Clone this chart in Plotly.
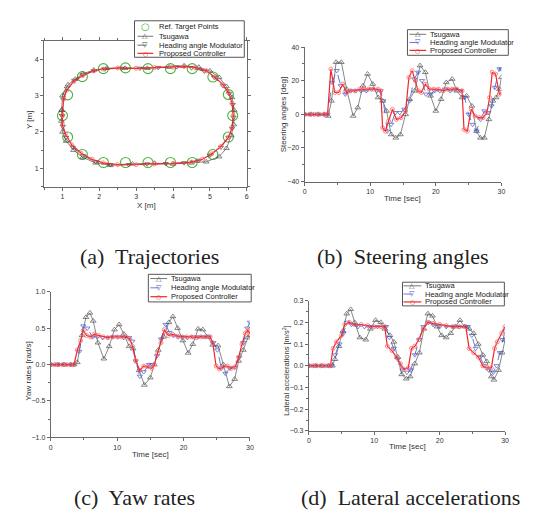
import plotly.graph_objects as go

W, H = 541, 520

# ---------------- data ----------------
# (a) trajectories
target_x = [1.00, 1.14, 1.14, 1.54, 1.54, 2.11, 2.11, 2.71, 2.71, 3.32, 3.32, 3.93, 3.93, 4.52, 4.52, 5.08, 5.08, 5.50, 5.50, 5.62]
target_y = [2.45, 3.02, 1.86, 3.52, 1.38, 3.74, 1.16, 3.76, 1.16, 3.74, 1.16, 3.74, 1.16, 3.74, 1.16, 3.51, 1.38, 3.03, 1.86, 2.45]

tsu_x = [0.98, 1.00, 1.15, 1.35, 1.55, 1.85, 2.20, 2.70, 3.30, 3.90, 4.30, 4.70, 5.00, 5.25, 5.45, 5.60, 5.66, 5.65, 5.58, 5.45, 5.25, 4.90, 4.50, 4.00, 3.50, 2.90, 2.30, 1.90, 1.55, 1.30, 1.10, 1.00, 0.97, 0.98]
tsu_y = [2.60, 3.00, 3.30, 3.45, 3.60, 3.70, 3.75, 3.75, 3.75, 3.78, 3.82, 3.78, 3.68, 3.50, 3.25, 2.95, 2.60, 2.20, 1.90, 1.55, 1.32, 1.18, 1.15, 1.12, 1.14, 1.12, 1.08, 1.15, 1.30, 1.50, 1.75, 2.00, 2.30, 2.60]

hea_x = [0.99, 1.02, 1.12, 1.32, 1.55, 1.85, 2.15, 2.60, 3.10, 3.60, 4.10, 4.50, 4.85, 5.12, 5.35, 5.52, 5.62, 5.64, 5.60, 5.50, 5.30, 5.00, 4.70, 4.30, 3.80, 3.30, 2.80, 2.30, 1.90, 1.55, 1.28, 1.10, 1.01, 0.99]
hea_y = [2.45, 2.90, 3.20, 3.42, 3.57, 3.68, 3.73, 3.75, 3.75, 3.77, 3.79, 3.76, 3.67, 3.50, 3.28, 3.05, 2.75, 2.40, 2.10, 1.85, 1.58, 1.36, 1.22, 1.15, 1.13, 1.12, 1.10, 1.10, 1.18, 1.35, 1.58, 1.85, 2.15, 2.45]

pro_x = [1.00, 1.03, 1.12, 1.30, 1.55, 1.85, 2.10, 2.50, 3.00, 3.50, 4.00, 4.30, 4.60, 4.90, 5.15, 5.35, 5.50, 5.60, 5.63, 5.60, 5.50, 5.30, 5.05, 4.80, 4.50, 4.00, 3.50, 3.00, 2.50, 2.10, 1.80, 1.50, 1.25, 1.08, 1.00, 1.00]
pro_y = [2.45, 2.90, 3.15, 3.38, 3.55, 3.68, 3.73, 3.76, 3.75, 3.77, 3.78, 3.80, 3.77, 3.68, 3.50, 3.30, 3.10, 2.80, 2.45, 2.10, 1.85, 1.60, 1.40, 1.25, 1.17, 1.13, 1.12, 1.10, 1.10, 1.15, 1.25, 1.42, 1.65, 1.95, 2.20, 2.45]

# (b) steering angles [deg]
b_tsu_t = [0, 1, 2, 3, 3.6, 4.1, 4.8, 5.6, 6.4, 7.4, 8.1, 8.9, 9.6, 10.4, 11.2, 11.9, 12.5, 13.2, 13.9, 14.6, 15.4, 16.0, 16.8, 17.6, 18.4, 19.2, 20.0, 20.8, 21.6, 22.5, 23.2, 24.0, 24.7, 25.5, 26.2, 26.8, 27.4, 28.1, 28.7, 29.2, 29.7, 30]
b_tsu_v = [0, 0, 0, 0, -1, 8, 31, 31, 15, -1, 4, 17, 24, 18, 10, 8, 2, -12, -14, -12, 0, 9, 14, 29, 25, 11, 2, 9, 19, 21, 14, 10, 11, 5, -10, -14, -14, -3, 8, 10, 15, 22]
b_hea_t = [0, 1, 2, 3, 3.5, 4.2, 4.9, 5.5, 6.2, 7.0, 7.8, 8.6, 9.4, 10.2, 11.0, 11.6, 12.0, 12.6, 13.2, 13.8, 14.5, 15.2, 16.0, 16.7, 17.3, 17.9, 18.5, 19.2, 19.8, 20.6, 21.4, 22.2, 23.0, 23.8, 24.4, 25.0, 25.6, 26.2, 26.8, 27.4, 28.0, 28.5, 29.0, 29.7, 30]
b_hea_v = [0, 0, 0, 0, 0, 19, 26, 17, 12, 14, 14, 14, 14, 15, 14, 14, 8, -10, -6, 1, 1, 3, 8, 21, 25, 20, 12, 12, 14, 14, 15, 14, 15, 14, 10, 0, -6, -10, -3, 2, 1, 5, 16, 27, 27]
b_pro_t = [0, 0.75, 1.5, 2.25, 3.0, 3.5, 4.0, 4.6, 5.2, 5.8, 6.4, 7.0, 7.7, 8.4, 9.1, 9.8, 10.5, 11.2, 11.6, 11.9, 12.3, 12.8, 13.4, 14.0, 14.7, 15.4, 15.9, 16.4, 16.9, 17.3, 17.8, 18.4, 19.0, 19.7, 20.4, 21.1, 21.8, 22.5, 23.2, 24.0, 24.3, 24.8, 25.4, 26.0, 26.6, 27.2, 27.8, 28.2, 28.6, 29.1, 29.7, 30]
b_pro_v = [0, 0, 0, 0, 0, 0, 27, 13, 13, 18, 13, 14, 14, 15, 15, 15, 15, 15, 14, -8, -10, -4, 3, -3, -2, 2, 22, 26, 20, 14, 13, 18, 15, 15, 15, 14, 15, 15, 15, 14, -9, -10, 3, -1, -2, -2, 1, 10, 25, 24, 12, 13]

# (c) yaw rates [rad/s]
c_tsu_t = [0, 1, 2, 3, 3.5, 4.0, 4.7, 5.3, 5.9, 6.4, 7.1, 8.0, 8.8, 9.6, 10.3, 11.0, 11.8, 12.4, 13.3, 14.1, 15.0, 15.6, 16.2, 17.0, 17.8, 18.4, 19.1, 19.9, 20.7, 21.4, 22.2, 22.9, 23.7, 24.4, 25.2, 26.0, 26.9, 27.7, 28.3, 29.0, 29.7, 30]
c_tsu_v = [0, 0, 0, 0, 0, 0.03, 0.40, 0.65, 0.71, 0.60, 0.30, 0.08, 0.25, 0.48, 0.55, 0.42, 0.25, 0.22, -0.08, -0.28, -0.18, 0.0, 0.20, 0.38, 0.58, 0.66, 0.50, 0.33, 0.16, 0.28, 0.49, 0.48, 0.38, 0.27, 0.26, 0.0, -0.30, -0.20, 0.05, 0.20, 0.37, 0.40]
c_hea_t = [0, 1, 2, 3, 3.5, 4.3, 4.9, 5.5, 6.3, 7.0, 7.8, 8.6, 9.4, 10.2, 11.0, 11.8, 12.3, 12.8, 13.4, 14.0, 14.8, 15.3, 16.0, 16.6, 17.3, 17.9, 18.5, 19.2, 19.9, 20.6, 21.4, 22.2, 23.0, 23.8, 24.5, 25.1, 25.7, 26.3, 27.0, 27.7, 28.4, 29.0, 29.6, 30]
c_hea_v = [0, 0, 0, 0, 0, 0.18, 0.53, 0.50, 0.38, 0.38, 0.37, 0.37, 0.38, 0.38, 0.37, 0.37, 0.32, 0.05, -0.16, -0.10, 0.0, 0.0, 0.12, 0.35, 0.55, 0.44, 0.40, 0.38, 0.38, 0.37, 0.38, 0.38, 0.38, 0.38, 0.30, 0.20, -0.05, -0.12, -0.05, -0.04, 0.10, 0.30, 0.50, 0.58]
c_pro_t = [0, 0.6, 1.2, 1.8, 2.4, 3.0, 3.5, 4.0, 4.5, 4.9, 5.4, 6.0, 6.6, 7.2, 7.9, 8.6, 9.3, 10.0, 10.7, 11.4, 11.9, 12.3, 12.8, 13.4, 14.0, 14.6, 15.2, 15.6, 16.1, 16.6, 17.1, 17.7, 18.4, 19.1, 19.8, 20.5, 21.2, 21.9, 22.6, 23.3, 24.0, 24.4, 24.9, 25.4, 26.0, 26.6, 27.2, 27.8, 28.3, 28.8, 29.3, 29.7, 30]
c_pro_v = [0, 0, 0, 0, 0, 0, 0.0, 0.2, 0.33, 0.47, 0.40, 0.38, 0.42, 0.40, 0.38, 0.37, 0.38, 0.38, 0.38, 0.38, 0.35, 0.25, 0.05, -0.08, -0.02, -0.03, -0.05, 0.0, 0.15, 0.30, 0.48, 0.40, 0.41, 0.39, 0.38, 0.38, 0.38, 0.37, 0.38, 0.38, 0.38, 0.30, -0.02, -0.06, -0.03, -0.02, -0.05, -0.03, 0.10, 0.28, 0.43, 0.47, 0.42]

# (d) lateral accelerations [m/s^2]
d_tsu_t = [0, 1, 2, 3, 3.6, 4.0, 4.6, 5.2, 5.8, 6.4, 7.0, 7.8, 8.7, 9.4, 10.2, 11.0, 11.6, 12.4, 13.0, 13.6, 14.2, 14.9, 15.5, 16.2, 16.9, 17.6, 18.2, 18.9, 19.6, 20.3, 21.0, 21.7, 22.4, 23.1, 23.8, 24.5, 25.2, 25.9, 26.6, 27.2, 27.9, 28.3, 29.0, 29.6, 30]
d_tsu_v = [0, 0, 0, 0, 0, 0.03, 0.09, 0.16, 0.24, 0.26, 0.20, 0.13, 0.12, 0.17, 0.21, 0.20, 0.17, 0.14, 0.11, 0.04, -0.04, -0.06, -0.05, 0.01, 0.06, 0.17, 0.24, 0.23, 0.18, 0.14, 0.13, 0.15, 0.18, 0.21, 0.18, 0.17, 0.15, 0.10, 0.05, 0.02, -0.05, -0.065, -0.02, 0.06, 0.12]
d_hea_t = [0, 1, 2, 3, 3.5, 4.0, 4.7, 5.3, 5.8, 6.5, 7.5, 8.5, 9.5, 10.5, 11.5, 11.8, 12.3, 13.0, 13.6, 14.3, 15.0, 15.6, 16.2, 16.9, 17.5, 18.3, 19.0, 20.0, 21.0, 22.0, 23.0, 24.0, 24.3, 24.9, 25.5, 26.2, 26.8, 27.5, 28.2, 28.7, 29.2, 29.6, 30]
d_hea_v = [0, 0, 0, 0, 0, 0.05, 0.10, 0.15, 0.20, 0.19, 0.18, 0.18, 0.18, 0.18, 0.18, 0.18, 0.13, 0.08, 0.03, -0.02, -0.03, -0.02, 0.05, 0.12, 0.18, 0.20, 0.19, 0.18, 0.18, 0.18, 0.18, 0.18, 0.18, 0.14, 0.08, 0.04, 0.0, -0.02, -0.03, 0.0, 0.06, 0.12, 0.16]
d_pro_t = [0, 0.6, 1.2, 1.8, 2.4, 3.0, 3.3, 3.7, 4.2, 5.0, 5.5, 6.2, 7.0, 8.0, 9.0, 10.0, 11.0, 11.6, 12.0, 12.7, 13.4, 14.0, 14.5, 15.2, 15.7, 16.2, 16.8, 17.5, 18.2, 19.0, 20.0, 21.0, 22.0, 23.0, 24.0, 24.5, 25.2, 25.9, 26.6, 27.2, 27.9, 28.4, 28.8, 29.5, 30]
d_pro_v = [0, 0, 0, 0, 0, 0, 0, 0.08, 0.11, 0.14, 0.19, 0.20, 0.19, 0.19, 0.185, 0.18, 0.18, 0.18, 0.09, 0.07, 0.04, 0.01, -0.015, -0.01, 0.08, 0.09, 0.12, 0.17, 0.20, 0.195, 0.19, 0.185, 0.18, 0.18, 0.18, 0.08, 0.06, 0.04, 0.0, -0.01, -0.01, 0.08, 0.11, 0.15, 0.18]

names = ["Tsugawa", "Heading angle Modulator", "Proposed Controller"]
captions = ["(a)  Trajectories", "(b)  Steering angles", "(c)  Yaw rates", "(d)  Lateral accelerations"]

# ---------------- styling ----------------
GREEN = "#4cb43c"
TSU_C = "#555555"
HEA_C = "#3f57c8"
PRO_C = "#f0262a"
PRO_M = "#ff6a6a"
AX_C = "#6a6a6a"
TXT_C = "#333333"
SANS = "Liberation Sans, Arial, sans-serif"
SERIF = "Liberation Serif, Times New Roman, serif"


def px(x):
    return x / W


def py(y):
    return 1 - y / H


fig = go.Figure()


def add_series(xs, ys, xa, ya, kind, hea_color=HEA_C):
    if kind == "tsu":
        fig.add_trace(go.Scatter(x=xs, y=ys, xaxis=xa, yaxis=ya, mode="lines+markers",
                                 line=dict(color=TSU_C, width=0.7),
                                 marker=dict(symbol="triangle-up-open", size=5, color=TSU_C, line=dict(width=0.7)),
                                 showlegend=False))
    elif kind == "hea":
        fig.add_trace(go.Scatter(x=xs, y=ys, xaxis=xa, yaxis=ya, mode="lines+markers",
                                 line=dict(color=hea_color, width=0.8, dash="dash"),
                                 marker=dict(symbol="triangle-down-open", size=4.5, color=hea_color, line=dict(width=0.7)),
                                 showlegend=False))
    else:
        fig.add_trace(go.Scatter(x=xs, y=ys, xaxis=xa, yaxis=ya, mode="lines+markers",
                                 line=dict(color=PRO_C, width=1.2),
                                 marker=dict(symbol="circle-open", size=4, color=PRO_M, line=dict(width=0.8)),
                                 showlegend=False))


# (a)
fig.add_trace(go.Scatter(x=target_x, y=target_y, xaxis="x", yaxis="y", mode="markers",
                         marker=dict(symbol="circle-open", size=10, color=GREEN, line=dict(width=1.1)),
                         showlegend=False))
add_series(tsu_x, tsu_y, "x", "y", "tsu")
add_series(hea_x, hea_y, "x", "y", "hea", hea_color="#444444")
add_series(pro_x, pro_y, "x", "y", "pro")
# (b)
add_series(b_tsu_t, b_tsu_v, "x2", "y2", "tsu")
add_series(b_hea_t, b_hea_v, "x2", "y2", "hea")
add_series(b_pro_t, b_pro_v, "x2", "y2", "pro")
# (c)
add_series(c_tsu_t, c_tsu_v, "x3", "y3", "tsu")
add_series(c_hea_t, c_hea_v, "x3", "y3", "hea")
add_series(c_pro_t, c_pro_v, "x3", "y3", "pro")
# (d)
add_series(d_tsu_t, d_tsu_v, "x4", "y4", "tsu")
add_series(d_hea_t, d_hea_v, "x4", "y4", "hea")
add_series(d_pro_t, d_pro_v, "x4", "y4", "pro")


def axis(domain, rng, dtick, mirror=False, fmt=None, minor=None, anchor=None):
    d = dict(domain=domain, range=rng, dtick=dtick, tick0=0, showgrid=False, zeroline=False,
             showline=True, linecolor=AX_C, linewidth=1, ticks="outside", ticklen=3,
             tickcolor=AX_C, tickwidth=1, tickfont=dict(family=SANS, size=7, color=TXT_C),
             mirror="ticks" if mirror else False, anchor=anchor)
    if fmt:
        d["tickformat"] = fmt
    if minor is not None:
        d["minor"] = dict(dtick=minor, ticks="outside", ticklen=2, tickcolor=AX_C, showgrid=False)
    return d


fig.update_layout(
    width=W, height=H, margin=dict(l=0, r=0, t=0, b=0),
    paper_bgcolor="white", plot_bgcolor="white", showlegend=False,
    xaxis=axis([px(42.5), px(247.5)], [0.5, 6], 1, mirror=True, minor=0.5, anchor="y"),
    yaxis=axis([py(185), py(37.5)], [0.5, 4.5], 1, mirror=True, minor=0.5, anchor="x"),
    xaxis2=axis([px(306), px(505)], [0, 30], 10, minor=5, anchor="y2"),
    yaxis2=axis([py(180), py(43.7)], [-40, 40], 20, minor=10, anchor="x2"),
    xaxis3=axis([px(49.3), px(250.7)], [0, 30], 10, minor=5, anchor="y3"),
    yaxis3=axis([py(439.3), py(291.7)], [-1, 1], 0.5, fmt=".1f", minor=0.25, anchor="x3"),
    xaxis4=axis([px(310.3), px(508.7)], [0, 30], 10, minor=5, anchor="y4"),
    yaxis4=axis([py(432.7), py(300.7)], [-0.3, 0.3], 0.1, fmt=".1f", minor=0.05, anchor="x4"),
)

ann = []
shapes = []


def text(x, y, s, size=8, angle=0, family=SANS, color=TXT_C, xanchor="center"):
    ann.append(dict(x=px(x), y=py(y), xref="paper", yref="paper", text=s, showarrow=False,
                    textangle=angle, xanchor=xanchor, yanchor="middle",
                    font=dict(family=family, size=size, color=color)))


# axis titles
text(146, 204, "X [m]")
text(28, 117, "Y [m]", angle=-90)
text(405, 197, "Time [sec]")
text(285, 112, "Steering angles [deg]", angle=-90)
text(150, 457, "Time [sec]")
text(27, 372, "Yaw rates [rad/s]", angle=-90)
text(410, 449, "Time [sec]")
text(287, 372, "Lateral accelerations [m/s<sup>2</sup>]", angle=-90, size=7.5)

# captions
text(149, 256, captions[0], size=22, family=SERIF, color="#222222")
text(406, 256, captions[1], size=22, family=SERIF, color="#222222")
text(134, 500, captions[2], size=22, family=SERIF, color="#222222")
text(413, 500, captions[3], size=22, family=SERIF, color="#222222")


def legend(box, rows, line_x0, line_x1, text_x, entries):
    x0, y0, x1, y1 = box
    shapes.append(dict(type="rect", xref="paper", yref="paper", x0=px(x0), x1=px(x1), y0=py(y1), y1=py(y0),
                       line=dict(color="#555555", width=1), fillcolor="white", layer="above"))
    mx = (line_x0 + line_x1) / 2
    for yy, (label, kind, col) in zip(rows, entries):
        if kind != "target":
            shapes.append(dict(type="line", xref="paper", yref="paper", x0=px(line_x0), x1=px(line_x1),
                               y0=py(yy), y1=py(yy), layer="above",
                               line=dict(color=col, width=1.2 if kind == "pro" else 0.8,
                                         dash="dash" if kind == "hea" else "solid")))
        glyph = {"target": "○", "tsu": "△", "hea": "▽", "pro": "○"}[kind]
        gsize = {"target": 10, "tsu": 7, "hea": 7, "pro": 6}[kind]
        ann.append(dict(x=px(mx), y=py(yy), xref="paper", yref="paper", text=glyph, showarrow=False,
                        xanchor="center", yanchor="middle",
                        font=dict(family="DejaVu Sans", size=gsize, color=col)))
        text(text_x, yy, label, size=7.5, xanchor="left", color="#222222")


legend((134, 17, 245, 54), [23.3, 32.7, 41.7, 50.0], 137, 153, 157,
       [("Ref. Target Points", "target", GREEN), (names[0], "tsu", TSU_C),
        (names[1], "hea", "#444444"), (names[2], "pro", PRO_C)])
legend((410, 26, 512, 52), [30.7, 39.0, 47.0], 412, 429, 431,
       [(names[0], "tsu", TSU_C), (names[1], "hea", HEA_C), (names[2], "pro", PRO_C)])
legend((148, 274, 252, 302), [278.3, 287.7, 296.7], 150, 167, 168.5,
       [(names[0], "tsu", TSU_C), (names[1], "hea", HEA_C), (names[2], "pro", PRO_C)])
legend((405, 282, 508, 306), [285.7, 294.0, 302.0], 406, 424, 425.5,
       [(names[0], "tsu", TSU_C), (names[1], "hea", HEA_C), (names[2], "pro", PRO_C)])

fig.update_layout(annotations=ann, shapes=shapes)
fig.write_html("out.html", config={"displayModeBar": False},
               post_script="document.body.style.margin='0';document.body.style.padding='0';")
